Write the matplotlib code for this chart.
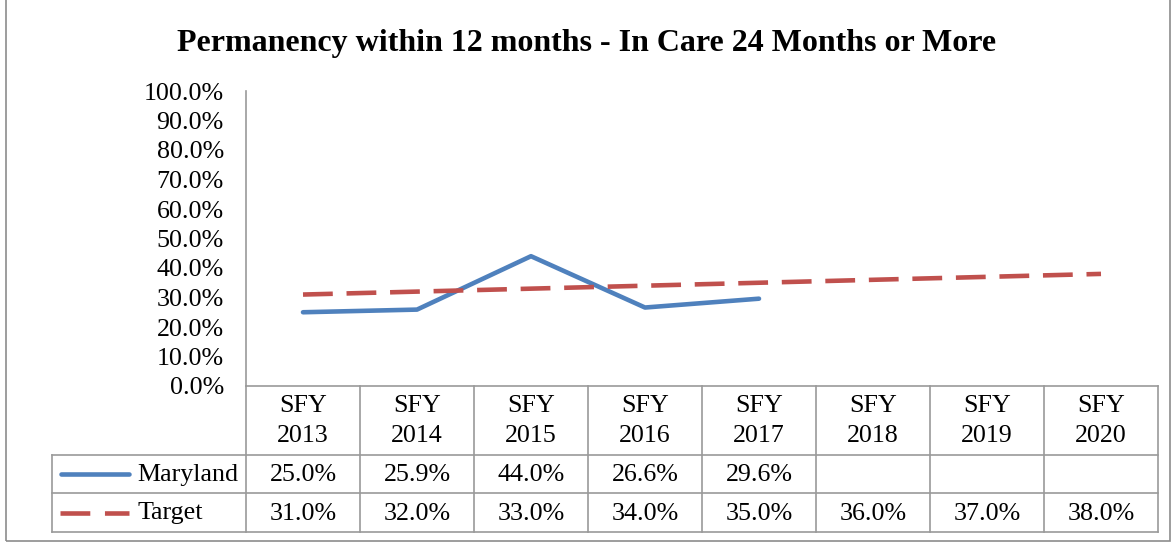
import matplotlib.pyplot as plt
import numpy as np
from matplotlib.patches import Rectangle

years = ["SFY\n2013", "SFY\n2014", "SFY\n2015", "SFY\n2016", "SFY\n2017",
         "SFY\n2018", "SFY\n2019", "SFY\n2020"]
maryland = [25.0, 25.9, 44.0, 26.6, 29.6]
target = [31.0, 32.0, 33.0, 34.0, 35.0, 36.0, 37.0, 38.0]
yticks = np.arange(0, 101, 10)

BLUE = "#4F81BD"
RED = "#C0504D"
GRID = "#9a9a9a"
W, H = 1174, 544

plt.rcParams["font.family"] = ["Liberation Serif", "DejaVu Serif"]

fig = plt.figure(figsize=(W / 100, H / 100), dpi=100)


def fx(px):
    return px / W


def fy(py):
    return 1 - py / H


# outer chart border
fig.add_artist(Rectangle((fx(6), fy(541)), fx(1164), fy(-5) - fy(541),
                         transform=fig.transFigure, fill=False, ec="#8c8c8c", lw=1.2))

fig.text(0.5, fy(44), "Permanency within 12 months - In Care 24 Months or More",
         ha="center", va="center", fontsize=23, fontweight="bold")

# plot area
x0, x1, ytop, ybot = 246, 1158, 91, 386
ax = fig.add_axes([fx(x0), fy(ybot), fx(x1 - x0), fy(ytop) - fy(ybot)])
n = len(years)
x = np.arange(n)
ax.plot(x[:len(maryland)], maryland, color=BLUE, lw=3.3, solid_capstyle="round")
ax.plot(x, target, color=RED, lw=3.3, linestyle=(0, (6.5, 3)))
ax.set_xlim(-0.5, n - 0.5)
ax.set_ylim(0, 100)
ax.set_yticks(yticks)
ax.set_yticklabels([f"{v:.1f}%" for v in yticks], fontsize=18.7)
ax.tick_params(axis="y", length=0, pad=16)
ax.set_xticks([])
for s in ["top", "right", "bottom"]:
    ax.spines[s].set_visible(False)
ax.spines["left"].set_color(GRID)
ax.spines["left"].set_linewidth(1.2)

# data table below, in pixel coordinates
tax = fig.add_axes([0, 0, 1, 1])
tax.set_xlim(0, W)
tax.set_ylim(H, 0)
tax.axis("off")
colw = (x1 - x0) / n
edges = [x0 + i * colw for i in range(n + 1)]
r0, r1, r2, r3 = ybot, 455, 493, 532
lk = dict(color=GRID, lw=1.2)
tax.plot([x0, x1], [r0, r0], **lk)
for yy in (r1, r2, r3):
    tax.plot([52, x1], [yy, yy], **lk)
tax.plot([52, 52], [r1, r3], **lk)
for e in edges:
    tax.plot([e, e], [r0, r3], **lk)

fs = 18.7
for i, lab in enumerate(years):
    cx = edges[i] + colw / 2
    top, bottom = lab.split("\n")
    tax.text(cx, r0 + 20, top, ha="center", va="center", fontsize=fs)
    tax.text(cx, r0 + 50, bottom, ha="center", va="center", fontsize=fs)
    if i < len(maryland):
        tax.text(cx, (r1 + r2) / 2 + 1, f"{maryland[i]:.1f}%", ha="center", va="center", fontsize=fs)
    tax.text(cx, (r2 + r3) / 2 + 1, f"{target[i]:.1f}%", ha="center", va="center", fontsize=fs)

# legend keys
ym, yt = (r1 + r2) / 2, (r2 + r3) / 2
tax.plot([61, 129], [ym, ym], color=BLUE, lw=3.3, solid_capstyle="round")
tax.plot([60, 129], [yt, yt], color=RED, lw=3.3, linestyle=(0, (6.5, 3.2)))
tax.text(137, ym + 1, "Maryland", ha="left", va="center", fontsize=fs)
tax.text(137, yt + 1, "Target", ha="left", va="center", fontsize=fs)

fig.savefig("out.png", dpi=100)
